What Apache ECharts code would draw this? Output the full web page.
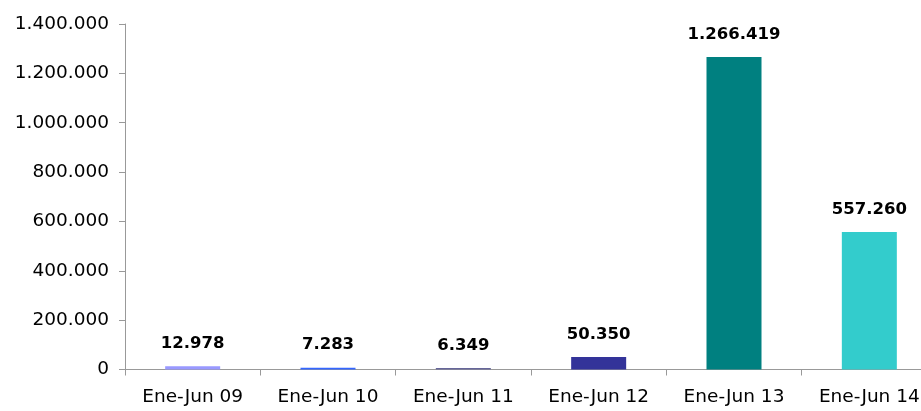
<!DOCTYPE html>
<html>
<head>
<meta charset="utf-8">
<script src="https://cdn.jsdelivr.net/npm/echarts@6/dist/echarts.min.js"></script>
<style>html,body{margin:0;padding:0;background:#fff;overflow:hidden;width:921px;height:411px;}#c{width:937px;height:411px;}</style>
</head>
<body>
<div id="c"></div>
<script>
var categories = ['Ene-Jun 09', 'Ene-Jun 10', 'Ene-Jun 11', 'Ene-Jun 12', 'Ene-Jun 13', 'Ene-Jun 14'];
var values = [12978, 7283, 6349, 50350, 1266419, 557260];
var barColors = ['#9999ff', '#3366ff', '#666699', '#333399', '#008080', '#33cccc'];

function fmt(v) {
  return String(Math.round(v)).replace(/\B(?=(\d{3})+(?!\d))/g, '.');
}

var chart = echarts.init(document.getElementById('c'), null, {renderer: 'canvas'});
chart.setOption({
  animation: false,
  backgroundColor: '#ffffff',
  grid: {left: 125, right: 0, top: 24, bottom: 41.5, containLabel: false},
  xAxis: {
    type: 'category',
    data: categories,
    boundaryGap: true,
    axisLine: {show: true, lineStyle: {color: '#999999', width: 1}},
    axisTick: {show: true, length: 6, alignWithLabel: false, lineStyle: {color: '#999999'}},
    axisLabel: {color: '#000000', fontFamily: 'DejaVu Sans', fontSize: 18.5, margin: 18, interval: 0},
    splitLine: {show: false}
  },
  yAxis: {
    type: 'value',
    min: 0,
    max: 1400000,
    interval: 200000,
    axisLine: {show: true, lineStyle: {color: '#999999', width: 1}},
    axisTick: {show: true, length: 6, lineStyle: {color: '#999999'}},
    axisLabel: {color: '#000000', fontFamily: 'DejaVu Sans', fontSize: 18.5, margin: 16, formatter: fmt},
    splitLine: {show: false}
  },
  series: [{
    type: 'bar',
    barWidth: 55,
    data: values.map(function (v, i) {
      return {value: v, itemStyle: {color: barColors[i]}};
    }),
    label: {
      show: true,
      position: 'top',
      distance: 14,
      color: '#000000',
      fontFamily: 'DejaVu Sans',
      fontWeight: 'bold',
      fontSize: 16.5,
      formatter: function (p) { return fmt(p.value); }
    }
  }]
});
</script>
</body>
</html>
